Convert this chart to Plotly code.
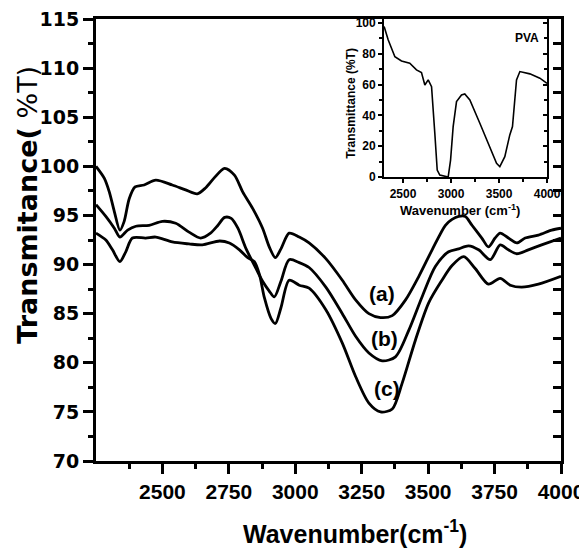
import plotly.graph_objects as go

# ---- main spectra (wavenumber, %T) ----
wn_a = [2250, 2281, 2300, 2319, 2340, 2356, 2375, 2397, 2431, 2475, 2537, 2587, 2631, 2662, 2694, 2734, 2771, 2802, 2840, 2877, 2902, 2925, 2946, 2977, 3015, 3052, 3115, 3177, 3227, 3277, 3321, 3365, 3415, 3465, 3515, 3565, 3590, 3615, 3640, 3665, 3702, 3727, 3752, 3771, 3802, 3834, 3865, 3915, 3965, 4000]
t_a = [100.0, 98.8, 97.4, 95.4, 93.5, 94.4, 96.7, 97.9, 98.1, 98.6, 98.1, 97.6, 97.2, 97.8, 98.8, 99.8, 99.1, 97.4, 95.7, 93.7, 91.8, 90.7, 91.6, 93.2, 92.8, 92.2, 90.6, 88.4, 86.4, 85.0, 84.6, 84.8, 86.4, 88.8, 91.5, 94.0, 94.6, 94.9, 94.9, 94.0, 92.7, 91.8, 92.7, 93.2, 92.7, 92.2, 92.7, 93.0, 93.5, 93.7]

wn_b = [2250, 2287, 2319, 2340, 2369, 2400, 2450, 2500, 2550, 2600, 2644, 2681, 2709, 2734, 2759, 2784, 2815, 2852, 2877, 2902, 2921, 2946, 2977, 3015, 3052, 3115, 3177, 3227, 3277, 3327, 3377, 3427, 3477, 3527, 3577, 3615, 3652, 3690, 3734, 3771, 3802, 3834, 3877, 3927, 4000]
t_b = [96.1, 94.9, 93.7, 92.8, 93.5, 93.9, 94.0, 94.4, 94.2, 93.3, 92.7, 93.2, 94.0, 94.8, 94.7, 93.7, 91.6, 89.6, 88.3, 87.3, 86.7, 88.3, 90.5, 90.2, 89.7, 87.7, 85.0, 82.7, 81.0, 80.2, 80.6, 83.3, 86.7, 89.8, 91.3, 91.6, 91.9, 91.5, 90.5, 92.0, 91.5, 91.1, 91.5, 92.0, 92.7]

wn_c = [2250, 2287, 2312, 2340, 2362, 2387, 2437, 2475, 2537, 2600, 2650, 2715, 2752, 2790, 2821, 2846, 2865, 2884, 2909, 2925, 2946, 2977, 3015, 3052, 3115, 3177, 3227, 3277, 3321, 3365, 3402, 3452, 3502, 3552, 3590, 3634, 3677, 3727, 3771, 3809, 3852, 3915, 4000]
t_c = [93.2, 92.5, 91.5, 90.3, 91.3, 92.7, 92.7, 92.8, 92.3, 92.1, 92.0, 92.4, 92.2, 91.5, 90.7, 90.3, 89.0, 86.6, 84.5, 84.0, 85.6, 88.4, 87.9, 87.6, 85.4, 82.0, 78.6, 75.9, 75.0, 75.3, 77.9, 82.3, 86.1, 88.4, 89.9, 90.8, 89.6, 88.0, 88.6, 87.9, 87.7, 88.0, 88.8]

# ---- inset: PVA ----
wn_pva = [2303, 2345, 2415, 2484, 2570, 2640, 2692, 2727, 2762, 2797, 2831, 2856, 2883, 2930, 2970, 2995, 3022, 3057, 3109, 3143, 3196, 3300, 3404, 3474, 3508, 3560, 3612, 3640, 3682, 3717, 3821, 3925, 4000]
t_pva = [97.6, 89.0, 78.0, 75.3, 73.8, 69.5, 67.7, 59.7, 63.0, 58.6, 28.4, 4.5, 1.3, 0.5, 0.0, 11.0, 32.7, 48.9, 53.2, 53.9, 50.0, 34.9, 19.7, 8.9, 6.7, 13.2, 27.3, 32.7, 63.0, 68.4, 66.9, 64.1, 60.8]

x_ticks = [2500, 2750, 3000, 3250, 3500, 3750, 4000]
y_ticks = [70, 75, 80, 85, 90, 95, 100, 105, 110, 115]
inset_x_ticks = [2500, 3000, 3500, 4000]
inset_y_ticks = [0, 20, 40, 60, 80, 100]
curve_labels = ["(a)", "(b)", "(c)"]
label_x = [3326, 3337, 3345]
label_y = [87.1, 82.5, 77.4]

FONT = "Liberation Sans, Arial, sans-serif"
WIDE = "DejaVu Sans, Liberation Sans, sans-serif"

fig = go.Figure()
for wx, ty in [(wn_a, t_a), (wn_b, t_b), (wn_c, t_c)]:
    fig.add_trace(go.Scatter(x=wx, y=ty, mode="lines",
                             line=dict(color="black", width=2.8, shape="spline", smoothing=0.8),
                             showlegend=False, hoverinfo="skip"))
# helper trace for top/right frame of main plot
fig.add_trace(go.Scatter(x=[3000], y=[90], xaxis="x3", yaxis="y3", mode="markers",
                         marker=dict(opacity=0), showlegend=False, hoverinfo="skip"))
# inset
fig.add_trace(go.Scatter(x=wn_pva, y=t_pva, xaxis="x2", yaxis="y2", mode="lines",
                         line=dict(color="black", width=1.6), showlegend=False, hoverinfo="skip"))
fig.add_trace(go.Scatter(x=[3000], y=[50], xaxis="x2", yaxis="y4", mode="markers",
                         marker=dict(opacity=0), showlegend=False, hoverinfo="skip"))

for txt, lx, ly in zip(curve_labels, label_x, label_y):
    fig.add_annotation(x=lx, y=ly, xref="x", yref="y", text="<b>%s</b>" % txt, showarrow=False,
                       font=dict(family=FONT, size=21, color="black"))
fig.add_annotation(x=3790, y=90, xref="x2", yref="y2", text="<b>PVA</b>", showarrow=False,
                   font=dict(family=FONT, size=12, color="black"))

# axis titles
fig.add_annotation(x=0.557, y=-0.161, xref="paper", yref="paper", text="<b>Wavenumber(cm<sup>-1</sup>)</b>",
                   showarrow=False, xanchor="center", yanchor="middle",
                   font=dict(family=FONT, size=25, color="black"))
fig.add_annotation(x=-0.149, y=0.579, xref="paper", yref="paper", text="<b>Transmitance(</b> %T)",
                   showarrow=False, xanchor="center", yanchor="middle", textangle=-90,
                   font=dict(family=WIDE, size=27, color="black"))
fig.add_annotation(x=0.783, y=0.568, xref="paper", yref="paper", text="<b>Wavenumber (cm<sup>-1</sup>)</b>",
                   showarrow=False, xanchor="center", yanchor="middle",
                   font=dict(family=FONT, size=13, color="black"))
fig.add_annotation(x=0.548, y=0.81, xref="paper", yref="paper", text="<b>Transmittance (%T)</b>",
                   showarrow=False, xanchor="center", yanchor="middle", textangle=-90,
                   font=dict(family=FONT, size=12, color="black"))

tickfont_x = dict(family=FONT, size=21, color="black", weight="bold")
tickfont_y = dict(family=WIDE, size=19, color="black", weight="bold")
ins_tickfont = dict(family=FONT, size=12, color="black", weight="bold")

# the page body adds an 8px offset, so the figure is sized to fit the window
fig.update_layout(
    width=579, height=542,
    margin=dict(l=88, r=26, t=11, b=89),
    paper_bgcolor="white", plot_bgcolor="white",
    xaxis=dict(domain=[0, 1], range=[2250, 4000], tickmode="array", tickvals=x_ticks, automargin=False,
               ticks="outside", ticklen=10, tickwidth=2.5, tickcolor="black", ticklabeloverflow="allow",
               showline=True, linewidth=3, linecolor="black", showgrid=False, zeroline=False,
               tickfont=tickfont_x,
               minor=dict(tickmode="linear", tick0=2375, dtick=250, ticks="outside", ticklen=5, tickwidth=2.5, tickcolor="black")),
    yaxis=dict(domain=[0, 1], range=[70, 115], tickmode="array", tickvals=y_ticks, automargin=False,
               ticks="outside", ticklen=10, tickwidth=2.5, tickcolor="black", ticklabeloverflow="allow",
               showline=True, linewidth=3, linecolor="black", showgrid=False, zeroline=False,
               tickfont=tickfont_y,
               minor=dict(tickmode="linear", tick0=72.5, dtick=5, ticks="outside", ticklen=5, tickwidth=2.5, tickcolor="black")),
    xaxis3=dict(overlaying="x", side="top", range=[2250, 4000], showline=True, linewidth=3, linecolor="black",
                automargin=False, ticks="", showticklabels=False, showgrid=False, zeroline=False),
    yaxis3=dict(overlaying="y", side="right", range=[70, 115], showline=True, linewidth=3, linecolor="black",
                automargin=False, tickmode="array", tickvals=y_ticks, ticks="inside", ticklen=8, tickwidth=2.5, tickcolor="black",
                minor=dict(tickmode="linear", tick0=72.5, dtick=5, ticks="inside", ticklen=8, tickwidth=2.5, tickcolor="black"),
                showticklabels=False, showgrid=False, zeroline=False),
    xaxis2=dict(domain=[0.619, 0.970], anchor="y2", range=[2300, 4000], tickmode="array", tickvals=inset_x_ticks,
                automargin=False, ticks="outside", ticklen=4, tickwidth=1.5, tickcolor="black", ticklabelstandoff=1,
                ticklabeloverflow="allow",
                minor=dict(tickmode="linear", tick0=2250, dtick=250, ticks="outside", ticklen=3, tickwidth=1.5, tickcolor="black"),
                showline=True, linewidth=1.5, linecolor="black", showgrid=False, zeroline=False,
                tickfont=ins_tickfont),
    yaxis2=dict(domain=[0.6425, 1.0], anchor="x2", range=[0, 102.5], tickmode="array", tickvals=inset_y_ticks,
                automargin=False, ticks="outside", ticklen=4, tickwidth=1.5, tickcolor="black", ticklabeloverflow="allow",
                minor=dict(tickmode="linear", tick0=10, dtick=20, ticks="outside", ticklen=3, tickwidth=1.5, tickcolor="black"),
                showline=True, linewidth=1.5, linecolor="black", showgrid=False, zeroline=False,
                tickfont=ins_tickfont),
    yaxis4=dict(overlaying="y2", anchor="x2", side="right", range=[0, 102.5], showline=True, linewidth=1.5, linecolor="black",
                automargin=False, tickmode="array", tickvals=inset_y_ticks, ticks="inside", ticklen=4, tickwidth=1.5, tickcolor="black",
                minor=dict(tickmode="linear", tick0=10, dtick=20, ticks="inside", ticklen=3, tickwidth=1.5, tickcolor="black"),
                showticklabels=False, showgrid=False, zeroline=False),
)

fig.write_html("out.html")
